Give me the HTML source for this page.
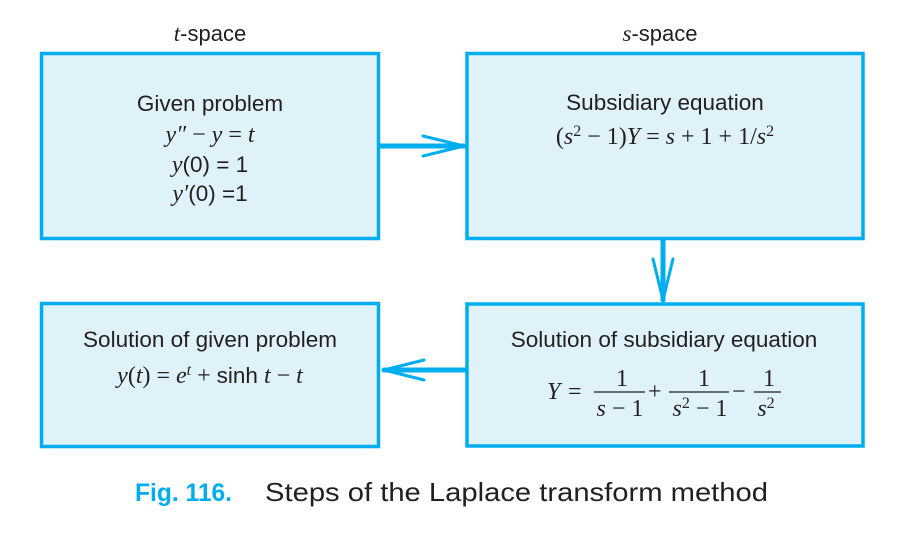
<!DOCTYPE html>
<html><head><meta charset="utf-8"><style>
html,body{margin:0;padding:0;background:#fff;}
svg{display:block;}
.s{font-family:"Liberation Sans",sans-serif;fill:#231f20;}
.m{font-family:"Liberation Serif",serif;fill:#231f20;}
.i{font-style:italic;}
</style></head><body>
<svg width="915" height="535" viewBox="0 0 915 535" xmlns="http://www.w3.org/2000/svg">
<g fill="#dff2fa" stroke="#00aeef" stroke-width="3.5">
<rect x="41.5" y="53.5" width="337" height="185"/>
<rect x="467" y="53.5" width="396" height="185"/>
<rect x="41.5" y="303.5" width="337" height="143"/>
<rect x="467" y="304" width="396" height="142"/>
</g>
<g stroke="#00aeef" fill="none" stroke-linecap="round">
<line x1="380" y1="146" x2="464" y2="146" stroke-width="5"/>
<polyline points="423,136 464,146 423,156" stroke-width="3" stroke-linejoin="round"/>
<line x1="663" y1="240" x2="663" y2="300" stroke-width="5"/>
<polyline points="653,259 663,300 673,259" stroke-width="3"/>
<line x1="466" y1="370" x2="384" y2="370" stroke-width="5"/>
<polyline points="424,360 384,370 424,380" stroke-width="3"/>
</g>
<text x="210" y="41" class="s" font-size="22" text-anchor="middle"><tspan class="m i" font-size="23">t</tspan>-space</text>
<text x="660" y="41" class="s" font-size="22" text-anchor="middle"><tspan class="m i" font-size="23">s</tspan>-space</text>

<text x="210" y="111" class="s" font-size="22.5" text-anchor="middle">Given problem</text>
<text x="210" y="142" class="m" font-size="24" text-anchor="middle"><tspan class="i">y″</tspan> − <tspan class="i">y</tspan> = <tspan class="i">t</tspan></text>
<text x="210" y="172" class="m" font-size="24" text-anchor="middle"><tspan class="i">y</tspan><tspan class="s" font-size="22.5">(0) = 1</tspan></text>
<text x="210" y="201" class="m" font-size="24" text-anchor="middle"><tspan class="i">y′</tspan><tspan class="s" font-size="22.5">(0) =1</tspan></text>

<text x="665" y="110" class="s" font-size="22.5" text-anchor="middle">Subsidiary equation</text>
<text x="665" y="144" class="m" font-size="24" text-anchor="middle">(<tspan class="i">s</tspan><tspan font-size="16" dy="-8">2</tspan><tspan dy="8"> − 1)</tspan><tspan class="i">Y</tspan> = <tspan class="i">s</tspan> + 1 + 1/<tspan class="i">s</tspan><tspan font-size="16" dy="-8">2</tspan></text>

<text x="210" y="347" class="s" font-size="22.5" text-anchor="middle">Solution of given problem</text>
<text x="210" y="383" class="m" font-size="24" text-anchor="middle"><tspan class="i">y</tspan>(<tspan class="i">t</tspan>) = <tspan class="i">e</tspan><tspan class="i" font-size="16" dy="-8">t</tspan><tspan dy="8"> + </tspan><tspan class="s" font-size="22.5">sinh</tspan> <tspan class="i">t</tspan> − <tspan class="i">t</tspan></text>

<text x="664" y="347" class="s" font-size="22.5" text-anchor="middle">Solution of subsidiary equation</text>
<g class="m" font-size="24">
<text x="547" y="399" class="m i">Y</text>
<text x="568" y="399" class="m">=</text>
<text x="622" y="386" class="m" text-anchor="middle">1</text>
<line x1="594" y1="392" x2="645" y2="392" stroke="#231f20" stroke-width="1.2"/>
<text x="620" y="416" class="m" text-anchor="middle"><tspan class="i">s</tspan> − 1</text>
<text x="648" y="399" class="m">+</text>
<text x="704" y="386" class="m" text-anchor="middle">1</text>
<line x1="669" y1="392" x2="729" y2="392" stroke="#231f20" stroke-width="1.2"/>
<text x="700" y="416" class="m" text-anchor="middle"><tspan class="i">s</tspan><tspan font-size="16" dy="-8">2</tspan><tspan dy="8"> − 1</tspan></text>
<text x="732" y="399" class="m">−</text>
<text x="769" y="386" class="m" text-anchor="middle">1</text>
<line x1="754" y1="392" x2="781" y2="392" stroke="#231f20" stroke-width="1.2"/>
<text x="766" y="416" class="m" text-anchor="middle"><tspan class="i">s</tspan><tspan font-size="16" dy="-8">2</tspan></text>
</g>

<text x="135" y="501" font-family="Liberation Sans,sans-serif" font-size="25" font-weight="bold" fill="#00aeef" textLength="97" lengthAdjust="spacingAndGlyphs">Fig. 116.</text>
<text x="265" y="501" font-family="Liberation Sans,sans-serif" font-size="26" fill="#231f20" textLength="503" lengthAdjust="spacingAndGlyphs">Steps of the Laplace transform method</text>
</svg>
</body></html>
